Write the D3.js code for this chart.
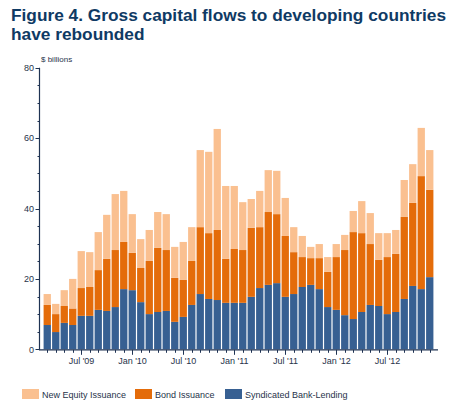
<!DOCTYPE html>
<html>
<head>
<meta charset="utf-8">
<script src="https://cdn.jsdelivr.net/npm/d3@7"></script>
<style>
  body { margin: 0; background: #fff; }
  svg { display: block; font-family: "Liberation Sans", Arial, sans-serif; }
</style>
</head>
<body>
<svg id="chart" width="469" height="413"></svg>
<script>
// Months Mar 2009 .. Dec 2012
const months = [];
for (let y = 2009; y <= 2012; y++) {
  for (let m = (y === 2009 ? 2 : 0); m < 12; m++) months.push({ y, m });
}
const monthKeys = months.map(d => d.y + "-" + String(d.m + 1).padStart(2, "0"));

const bankLending = [6.9,4.9,7.5,6.9,9.5,9.5,11.2,10.9,12.0,17.1,16.8,13.4,10.0,10.6,10.9,7.8,9.2,12.6,15.7,14.3,14.0,13.2,13.2,13.2,14.9,17.4,18.3,18.8,14.9,15.7,17.7,18.3,17.1,12.0,11.2,9.7,8.6,10.6,12.6,12.3,10.0,10.6,14.3,18.0,17.1,20.5];
const bondIssuance = [5.7,5.1,4.8,4.7,7.9,8.2,11.3,14.8,16.2,13.4,10.6,9.7,15.1,18.2,17.3,12.5,10.5,12.5,19.0,18.7,19.9,12.5,15.3,15.0,19.6,17.3,20.7,19.6,17.3,11.9,8.5,7.6,8.8,10.0,15.0,18.5,24.7,22.4,17.3,13.1,16.2,16.5,23.3,23.6,32.1,24.8];
const equityIssuance = [3.1,2.9,4.5,8.4,10.5,9.9,10.8,12.5,15.9,14.5,11.0,8.2,8.8,10.2,10.2,8.8,10.8,9.6,21.9,23.1,28.7,20.7,17.9,13.6,8.2,10.3,11.9,12.3,10.8,7.1,6.0,3.2,4.0,4.2,3.7,4.3,6.0,9.1,8.8,7.6,6.8,6.8,10.5,11.0,13.7,11.3];
const yTicks = [0, 20, 40, 60, 80];
const seriesNames = ["Syndicated Bank-Lending", "Bond Issuance", "New Equity Issuance"];
const seriesColors = ["#376092", "#e46c0a", "#fac090"];
const legendOrder = [2, 1, 0];

const svg = d3.select("#chart");
const navy = "#0f3a64";
const axisColor = "#1f3353";
const labelColor = "#27334a";

// Title
svg.append("text").attr("x", 11).attr("y", 21)
  .attr("font-size", 17.3).attr("font-weight", "bold").attr("fill", navy)
  .text("Figure 4. Gross capital flows to developing countries");
svg.append("text").attr("x", 11).attr("y", 40)
  .attr("font-size", 17.3).attr("font-weight", "bold").attr("fill", navy)
  .text("have rebounded");

const x = d3.scaleBand().domain(monthKeys).range([43, 434]).paddingInner(0.14).paddingOuter(0.07);
const y = d3.scaleLinear().domain([0, 80]).range([349.3, 67.7]);

const table = months.map((d, i) => ({
  key: monthKeys[i],
  s0: bankLending[i], s1: bondIssuance[i], s2: equityIssuance[i]
}));
const stack = d3.stack().keys(["s0", "s1", "s2"])(table);

svg.append("g").selectAll("g").data(stack).join("g")
  .attr("fill", (d, i) => seriesColors[i])
  .selectAll("rect").data(d => d).join("rect")
  .attr("x", d => x(d.data.key))
  .attr("width", x.bandwidth())
  .attr("y", d => y(d[1]))
  .attr("height", d => y(d[0]) - y(d[1]));

// Y axis
const yAxisX = 39.5;
const gy = svg.append("g");
gy.append("line").attr("x1", yAxisX).attr("x2", yAxisX).attr("y1", y(80)).attr("y2", y(0) + 0.5)
  .attr("stroke", axisColor).attr("stroke-width", 1.2);
d3.range(0, 81, 5).forEach(v => {
  const major = v % 20 === 0;
  gy.append("line").attr("x1", yAxisX - (major ? 4 : 2)).attr("x2", yAxisX)
    .attr("y1", Math.round(y(v)) + 0.5).attr("y2", Math.round(y(v)) + 0.5)
    .attr("stroke", axisColor).attr("stroke-width", 1);
});
gy.selectAll("text.yl").data(yTicks).join("text")
  .attr("x", 34).attr("y", d => y(d) + 3.2)
  .attr("text-anchor", "end").attr("font-size", 9).attr("fill", labelColor)
  .text(d => d);
svg.append("text").attr("x", 41).attr("y", 62).attr("font-size", 8).attr("fill", labelColor).text("$ billions");

// X axis
const gx = svg.append("g");
const axisY = 349.8;
gx.append("line").attr("x1", 39).attr("x2", 438).attr("y1", axisY).attr("y2", axisY)
  .attr("stroke", axisColor).attr("stroke-width", 1.2);
months.forEach((d, i) => {
  const cx = Math.round(x(monthKeys[i]) + x.bandwidth() / 2) + 0.5;
  const major = d.m === 0 || d.m === 6;
  gx.append("line").attr("x1", cx).attr("x2", cx).attr("y1", axisY).attr("y2", axisY + (major ? 5 : 3))
    .attr("stroke", axisColor).attr("stroke-width", 1);
  if (major) {
    gx.append("text").attr("x", cx).attr("y", 364)
      .attr("text-anchor", "middle").attr("font-size", 9).attr("fill", labelColor)
      .text((d.m === 0 ? "Jan" : "Jul") + " '" + String(d.y).slice(2));
  }
});

// Legend
const legendX = [22, 135, 225];
legendOrder.forEach((si, j) => {
  const g = svg.append("g").attr("transform", `translate(${legendX[j]},389)`);
  g.append("rect").attr("width", 17).attr("height", 10).attr("fill", seriesColors[si]);
  g.append("text").attr("x", 20).attr("y", 8.5).attr("font-size", 9).attr("fill", labelColor).text(seriesNames[si]);
});
</script>
</body>
</html>
